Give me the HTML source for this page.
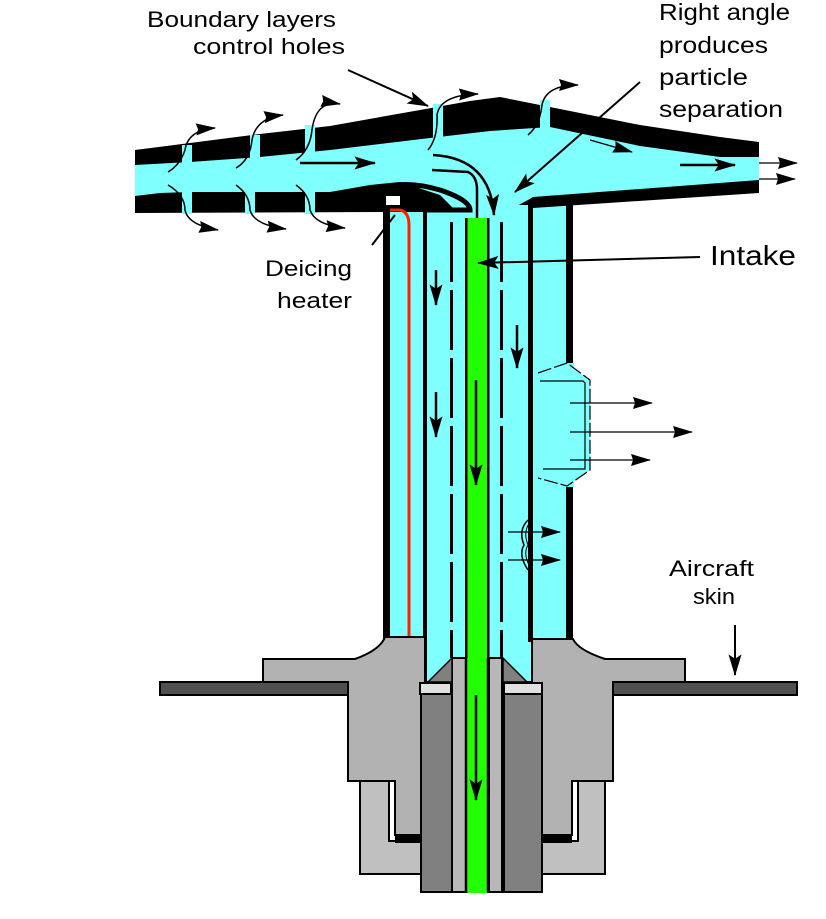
<!DOCTYPE html>
<html><head><meta charset="utf-8"><style>
html,body{margin:0;padding:0;background:#fff;}
svg{display:block;}
text{font-family:"Liberation Sans",sans-serif;fill:#000;}
</style></head><body>
<svg width="826" height="919" viewBox="0 0 826 919" xmlns="http://www.w3.org/2000/svg">
<defs>
<marker id="ab" viewBox="0 0 20 12" refX="19" refY="6" markerWidth="22" markerHeight="13" orient="auto" markerUnits="userSpaceOnUse"><path d="M0,0 L20,6 L0,12 L4,6 z" fill="#000"/></marker>
<marker id="am" viewBox="0 0 20 12" refX="19" refY="6" markerWidth="20" markerHeight="12" orient="auto" markerUnits="userSpaceOnUse"><path d="M0,0 L20,6 L0,12 L2,6 z" fill="#000"/></marker>
</defs>

<!-- stem -->
<rect x="383" y="195" width="190" height="445" fill="#000"/>
<rect x="390" y="205" width="176" height="440" fill="#80ffff"/>
<rect x="423" y="600" width="108" height="82" fill="#80ffff"/>
<rect x="528" y="197" width="5" height="445" fill="#000"/>
<rect x="423" y="195" width="4" height="490" fill="#000"/>
<!-- bulge -->
<path d="M566,363 L590,380 L590,470 L566,487 Z" fill="#80ffff"/>
<rect x="566" y="363" width="8" height="124" fill="#80ffff"/>
<path d="M538,373 L567,363 L590,380 L590,470 L567,486 L538,478" fill="none" stroke="#000" stroke-width="1.2" stroke-dasharray="14,3"/>
<path d="M540,381 L583,381 L585,383 L585,469 L543,469" fill="none" stroke="#000" stroke-width="1.2"/>

<!-- manifold -->
<path d="M135,150 L190,143 L260,134 L330,126 L420,110 L470,101 L500,97 L550,107 L640,125 L720,137 L759,142 L759,193 L533,208 L533,200 L470,212 L420,212 L385,212 L135,213 Z" fill="#000"/>
<path d="M135,165 L190,162 L260,157 L330,150 L430,138 L490,131 L550,127 L640,146 L720,157 L759,157 L759,180 L533,197 L528,200 L500,215 L460,215 L440,195 L400,182 L370,185 L330,192 L250,192 L190,192 L160,193 L135,196 Z" fill="#80ffff"/>
<!-- deflector -->
<path d="M370,192 Q400,178 440,190 Q470,200 470,210 L425,210" fill="none" stroke="#000" stroke-width="5"/>
<path d="M418,190 Q425,195 425,210" fill="none" stroke="#000" stroke-width="5"/>
<rect x="386" y="196" width="14" height="9" fill="#fff"/>
<rect x="384" y="205" width="6" height="435" fill="#000"/>
<path d="M390,210 L400,210 Q409,212 409,225 L409,637" fill="none" stroke="#ff2000" stroke-width="3"/>
<!-- holes -->
<g fill="#80ffff">
<rect x="182" y="145" width="10" height="22"/><rect x="250" y="135" width="10" height="24"/><rect x="305" y="125" width="10" height="28"/>
<rect x="433" y="104" width="10" height="36"/><rect x="540" y="100" width="10" height="30"/>
<rect x="182" y="190" width="10" height="24"/><rect x="245" y="190" width="10" height="24"/><rect x="305" y="190" width="10" height="24"/>
</g>
<g fill="none" stroke="#000" stroke-width="1.5" marker-end="url(#am)">
<path d="M168,172 Q180,165 185,150 Q188,130 215,128"/>
<path d="M236,168 Q250,160 252,140 Q256,118 283,115"/>
<path d="M296,160 Q310,150 312,130 Q316,100 340,104"/>
<path d="M428,150 Q438,138 437,115 Q440,95 478,94"/>
<path d="M528,135 Q540,125 542,105 Q546,85 578,85"/>
<path d="M168,185 Q185,195 185,210 Q188,225 218,230"/>
<path d="M236,185 Q250,195 250,210 Q254,225 286,229"/>
<path d="M296,185 Q310,195 310,210 Q315,225 345,228"/>
</g>
<!-- flow arrows -->
<g fill="none" stroke="#000" stroke-width="2.5" marker-end="url(#ab)">
<line x1="300" y1="163" x2="375" y2="163"/>
<line x1="680" y1="165" x2="735" y2="165"/>
<path d="M433,155 Q490,158 494,215"/>
<path d="M432,170 L468,172 Q477,176 477,190 L477,255"/>
<line x1="436" y1="270" x2="436" y2="305"/>
<line x1="436" y1="392" x2="436" y2="437"/>
<line x1="517" y1="325" x2="517" y2="368"/>
</g>
<g fill="none" stroke="#000" stroke-width="1.3" marker-end="url(#am)">
<path d="M590,140 L632,152"/>
<line x1="759" y1="163" x2="797" y2="163"/>
<line x1="759" y1="179" x2="795" y2="179"/>
<line x1="570" y1="403" x2="652" y2="403"/>
<line x1="570" y1="432" x2="692" y2="432"/>
<line x1="570" y1="460" x2="650" y2="460"/>
<line x1="508" y1="532" x2="560" y2="532"/>
<line x1="508" y1="560" x2="560" y2="560"/>
</g>
<path d="M528,520 Q518,530 524,545 Q518,555 528,570" fill="none" stroke="#000" stroke-width="1.5"/>
<path d="M532,520 Q522,530 528,545 Q522,555 532,570" fill="none" stroke="#000" stroke-width="1"/>

<!-- green intake & dashed walls -->
<rect x="466" y="218" width="22" height="675" fill="#22ff00"/>
<rect x="465" y="218" width="2.5" height="675" fill="#000"/>
<rect x="487" y="218" width="2.5" height="675" fill="#000"/>
<line x1="451.5" y1="222" x2="451.5" y2="658" stroke="#000" stroke-width="3" stroke-dasharray="60,8"/>
<line x1="501.5" y1="222" x2="501.5" y2="658" stroke="#000" stroke-width="3" stroke-dasharray="60,8"/>
<line x1="476" y1="380" x2="476" y2="485" stroke="#000" stroke-width="2.5" marker-end="url(#ab)"/>

<!-- base -->
<rect x="160" y="682" width="637" height="13" fill="#505050" stroke="#000" stroke-width="2"/>
<path d="M263,659 L355,659 Q380,650 385,637 L425,637 L425,835 L395,835 L395,781 L348,781 L348,682 L263,682 Z" fill="#b2b2b2" stroke="#000" stroke-width="2"/>
<path d="M685,659 L605,659 Q578,650 573,639 L532,639 L532,835 L572,835 L572,781 L613,781 L613,682 L685,682 Z" fill="#b2b2b2" stroke="#000" stroke-width="2"/>
<path d="M360,781 L389,781 L389,841 L433,841 L433,874 L360,874 Z" fill="#c0c0c0" stroke="#000" stroke-width="2"/>
<path d="M605,781 L578,781 L578,841 L534,841 L534,874 L605,874 Z" fill="#c0c0c0" stroke="#000" stroke-width="2"/>
<path d="M395,835 L425,835 L425,843 L395,843 Z" fill="#000"/>
<path d="M532,835 L572,835 L572,843 L532,843 Z" fill="#000"/>
<rect x="421" y="694" width="32" height="198" fill="#808080" stroke="#000" stroke-width="2"/>
<rect x="504" y="694" width="38" height="198" fill="#808080" stroke="#000" stroke-width="2"/>
<rect x="452" y="658" width="14" height="234" fill="#b8b8b8" stroke="#000" stroke-width="2"/>
<rect x="489" y="658" width="13" height="234" fill="#b8b8b8" stroke="#000" stroke-width="2"/>
<rect x="466.5" y="658" width="21" height="234" fill="#22ff00"/>
<line x1="466" y1="658" x2="466" y2="892" stroke="#000" stroke-width="2.5"/>
<line x1="488" y1="658" x2="488" y2="892" stroke="#000" stroke-width="2.5"/>
<line x1="476" y1="695" x2="476" y2="800" stroke="#000" stroke-width="2.5" marker-end="url(#ab)"/>
<path d="M428,682 L452,658 L452,682 Z" fill="#808080" stroke="#000" stroke-width="1.5"/>
<path d="M503,658 L527,682 L503,682 Z" fill="#808080" stroke="#000" stroke-width="1.5"/>
<rect x="420" y="683" width="31" height="11" fill="#e0e0e0" stroke="#000" stroke-width="2"/>
<rect x="504" y="683" width="38" height="11" fill="#e0e0e0" stroke="#000" stroke-width="2"/>

<!-- leaders -->
<g stroke="#000" stroke-width="2" fill="none" marker-end="url(#ab)">
<line x1="348" y1="70" x2="428" y2="106"/>
<line x1="640" y1="82" x2="515" y2="192"/>
<line x1="700" y1="257" x2="478" y2="263"/>
<line x1="735" y1="625" x2="735" y2="675"/>
</g>
<line x1="372" y1="245" x2="395" y2="215" stroke="#000" stroke-width="2"/>

<!-- labels -->
<text x="147" y="27" font-size="22" textLength="189" lengthAdjust="spacingAndGlyphs">Boundary layers</text>
<text x="193" y="54" font-size="22" textLength="152" lengthAdjust="spacingAndGlyphs">control holes</text>
<text x="659" y="20" font-size="23" textLength="131" lengthAdjust="spacingAndGlyphs">Right angle</text>
<text x="659" y="53" font-size="23" textLength="109" lengthAdjust="spacingAndGlyphs">produces</text>
<text x="659" y="85" font-size="23" textLength="89" lengthAdjust="spacingAndGlyphs">particle</text>
<text x="659" y="117" font-size="23" textLength="124" lengthAdjust="spacingAndGlyphs">separation</text>
<text x="710" y="265" font-size="28" textLength="86" lengthAdjust="spacingAndGlyphs">Intake</text>
<text x="265" y="276" font-size="22" textLength="87" lengthAdjust="spacingAndGlyphs">Deicing</text>
<text x="277" y="308" font-size="22" textLength="75" lengthAdjust="spacingAndGlyphs">heater</text>
<text x="669" y="576" font-size="22" textLength="85" lengthAdjust="spacingAndGlyphs">Aircraft</text>
<text x="693" y="604" font-size="22" textLength="42" lengthAdjust="spacingAndGlyphs">skin</text>
</svg>
</body></html>
